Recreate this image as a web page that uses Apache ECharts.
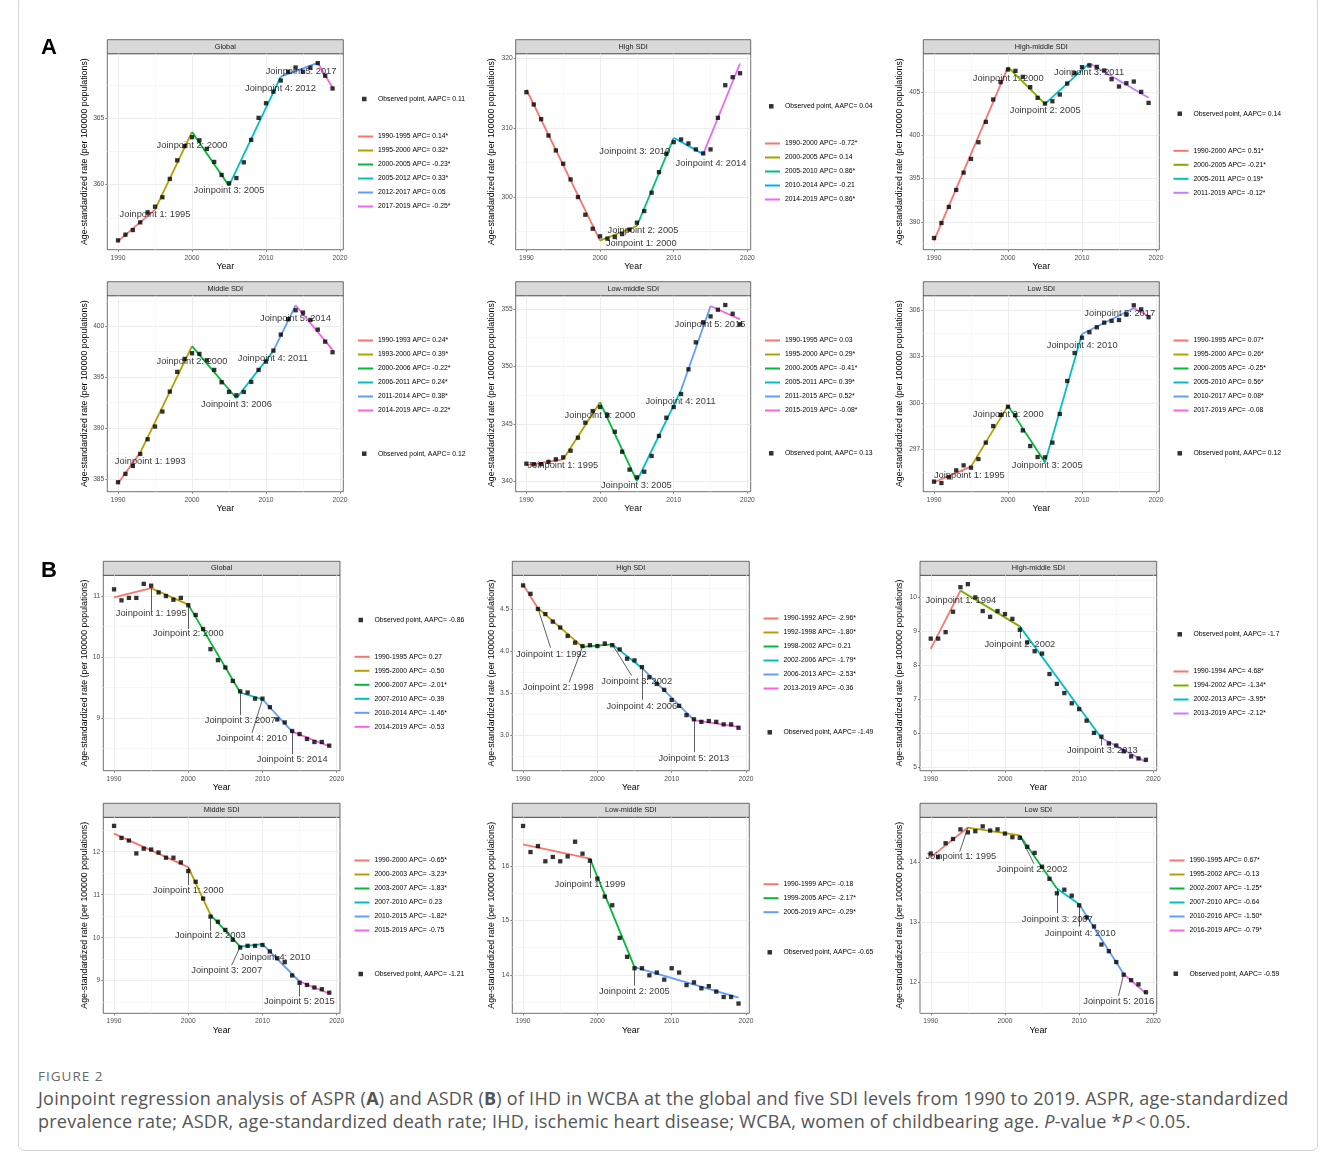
<!DOCTYPE html>
<html>
<head>
<meta charset="utf-8">
<title>Joinpoint regression of ASPR and ASDR</title>
<script src="https://cdn.jsdelivr.net/npm/echarts@6/dist/echarts.min.js"></script>
<style>
  html, body { margin: 0; padding: 0; background: #fff; }
  body { width: 1328px; height: 1157px; position: relative; overflow: hidden; }
  #frame { position: absolute; left: 18px; top: -4px; width: 1300px; height: 1155px; border: 1px solid #d4d4d4; border-radius: 6px; box-sizing: border-box; }
  #chart { position: absolute; left: 0; top: 0; width: 1328px; height: 1060px; }
  #figno { position: absolute; left: 38px; top: 1067px; font: 13.5px "Open Sans", "Noto Sans", sans-serif; letter-spacing: 1px; color: #666; line-height: 18px; }
  #caption { position: absolute; left: 38px; top: 1087px; font: 18px "Open Sans", "Noto Sans", sans-serif; letter-spacing: 0.25px; color: #555; line-height: 23px; white-space: nowrap; }
</style>
</head>
<body>
<div id="frame"></div>
<div id="chart"></div>
<div id="figno">FIGURE 2</div>
<div id="caption">Joinpoint regression analysis of ASPR (<b>A</b>) and ASDR (<b>B</b>) of IHD in WCBA at the global and five SDI levels from 1990 to 2019. ASPR, age-standardized<br>prevalence rate; ASDR, age-standardized death rate; IHD, ischemic heart disease; WCBA, women of childbearing age. <i>P</i>-value *<i>P</i>&thinsp;&lt;&thinsp;0.05.</div>
<script>
const FONT = 'Liberation Sans, Arial, Helvetica, sans-serif'

const years = [1990, 1991, 1992, 1993, 1994, 1995, 1996, 1997, 1998, 1999, 2000, 2001, 2002, 2003, 2004,
  2005, 2006, 2007, 2008, 2009, 2010, 2011, 2012, 2013, 2014, 2015, 2016, 2017, 2018, 2019]
const xMajor = [1990, 2000, 2010, 2020]
const xMinor = [1995, 2005, 2015]

// ---- A: ASPR ----
const aGlobalObs = [355.8, 356.23, 356.58, 357.16, 357.91, 358.34, 359.05, 360.43, 361.83, 362.9, 363.57, 363.34, 362.69, 361.71, 360.73,
  360.1, 360.5, 361.68, 363.37, 365.03, 366.13, 367.0, 367.84, 368.5, 368.82, 368.5, 368.8, 369.15, 368.2, 367.24]
const aGlobalJoins = [1990, 1995, 2000, 2005, 2012, 2017, 2019]
const aGlobalFit = [355.75, 358.12, 363.97, 359.92, 368.14, 369.17, 367.29]
const aGlobalApc = ['1990-1995 APC= 0.14*', '1995-2000 APC= 0.32*', '2000-2005 APC= -0.23*', '2005-2012 APC= 0.33*', '2012-2017 APC= 0.05', '2017-2019 APC= -0.25*']
const aGlobalAapc = 'AAPC= 0.11'
const aGlobalLabelAt = [[1995.0, 357.74], [2000.0, 362.94], [2005.0, 359.55], [2011.95, 367.21], [2014.74, 368.54]]

const aHighObs = [315.14, 313.37, 311.25, 308.89, 306.73, 304.81, 302.55, 300.0, 297.45, 295.43, 294.33, 294.0, 294.23, 294.66, 295.3,
  296.3, 297.98, 300.63, 303.6, 306.25, 307.93, 308.32, 307.74, 306.88, 306.3, 306.88, 311.44, 316.15, 317.31, 317.88]
const aHighJoins = [1990, 2000, 2005, 2010, 2014, 2019]
const aHighFit = [315.53, 293.7, 295.82, 308.56, 306.2, 319.28]
const aHighApc = ['1990-2000 APC= -0.72*', '2000-2005 APC= 0.14', '2005-2010 APC= 0.86*', '2010-2014 APC= -0.21', '2014-2019 APC= 0.86*']
const aHighAapc = 'AAPC= 0.04'
const aHighLabelAt = [[2005.6, 293.3], [2005.83, 295.19], [2004.71, 306.63], [2015.06, 304.9]]

const aHighMidObs = [388.15, 389.88, 391.73, 393.69, 395.69, 397.27, 399.19, 401.54, 404.12, 406.12, 407.58, 407.42, 406.73, 405.54, 404.31,
  403.65, 403.92, 404.69, 405.96, 407.15, 407.85, 408.04, 407.88, 407.46, 406.46, 405.62, 406.0, 406.19, 405.0, 403.73]
const aHighMidJoins = [1990, 2000, 2005, 2011, 2019]
const aHighMidFit = [387.85, 407.85, 403.62, 408.31, 404.31]
const aHighMidApc = ['1990-2000 APC= 0.51*', '2000-2005 APC= -0.21*', '2005-2011 APC= 0.19*', '2011-2019 APC= -0.12*']
const aHighMidAapc = 'AAPC= 0.14'
const aHighMidLabelAt = [[2000.03, 406.58], [2005.02, 402.85], [2010.96, 407.23]]

const aMiddleObs = [384.68, 385.5, 386.28, 387.46, 388.9, 390.15, 391.62, 393.58, 395.52, 396.79, 397.35, 397.28, 396.66, 395.71, 394.5,
  393.55, 393.22, 393.55, 394.53, 395.71, 396.53, 397.61, 399.18, 400.69, 401.57, 401.34, 400.62, 399.67, 398.49, 397.45]
const aMiddleJoins = [1990, 1993, 2000, 2006, 2011, 2014, 2019]
const aMiddleFit = [384.58, 387.59, 398.04, 392.93, 397.58, 402.06, 397.68]
const aMiddleApc = ['1990-1993 APC= 0.24*', '1993-2000 APC= 0.39*', '2000-2006 APC= -0.22*', '2006-2011 APC= 0.24*', '2011-2014 APC= 0.38*', '2014-2019 APC= -0.22*']
const aMiddleAapc = 'AAPC= 0.12'
const aMiddleLabelAt = [[1994.36, 386.71], [1999.99, 396.56], [2006.01, 392.37], [2010.92, 396.79], [2013.98, 400.79]]

const aLowMidObs = [341.54, 341.5, 341.5, 341.7, 341.92, 342.09, 342.67, 343.8, 345.11, 346.12, 346.47, 345.77, 344.32, 342.58, 341.02,
  340.35, 340.84, 342.21, 343.95, 345.54, 346.47, 347.6, 349.75, 352.1, 353.84, 354.36, 354.94, 355.35, 354.59, 353.67]
const aLowMidJoins = [1990, 1995, 2000, 2005, 2011, 2015, 2019]
const aLowMidFit = [341.42, 341.92, 346.88, 340.03, 347.95, 355.26, 354.1]
const aLowMidApc = ['1990-1995 APC= 0.03', '1995-2000 APC= 0.29*', '2000-2005 APC= -0.41*', '2005-2011 APC= 0.39*', '2011-2015 APC= 0.52*', '2015-2019 APC= -0.08*']
const aLowMidAapc = 'AAPC= 0.13'
const aLowMidLabelAt = [[1994.95, 341.42], [1999.99, 345.77], [2004.93, 339.68], [2010.92, 346.93], [2014.92, 353.67]]

const aLowObs = [294.91, 294.82, 295.19, 295.64, 295.96, 295.81, 296.37, 297.43, 298.5, 299.22, 299.75, 299.2, 298.22, 297.21, 296.5,
  296.48, 297.43, 299.28, 301.41, 303.22, 304.21, 304.56, 304.88, 305.18, 305.29, 305.35, 305.7, 306.3, 306.04, 305.53]
const aLowJoins = [1990, 1995, 2000, 2005, 2010, 2017, 2019]
const aLowFit = [294.87, 295.88, 299.82, 296.14, 304.45, 306.11, 305.61]
const aLowApc = ['1990-1995 APC= 0.07*', '1995-2000 APC= 0.26*', '2000-2005 APC= -0.25*', '2005-2010 APC= 0.56*', '2010-2017 APC= 0.08*', '2017-2019 APC= -0.08']
const aLowAapc = 'AAPC= 0.12'
const aLowLabelAt = [[1994.77, 295.3], [2000.03, 299.24], [2005.29, 295.98], [2010.02, 303.7], [2015.1, 305.78]]

// ---- B: ASDR ----
const bGlobalObs = [11.11, 10.93, 10.97, 10.97, 11.2, 11.17, 11.06, 11.0, 10.94, 10.97, 10.85, 10.69, 10.46, 10.13, 9.95,
  9.83, 9.61, 9.44, 9.42, 9.32, 9.32, 9.18, 8.98, 8.93, 8.79, 8.74, 8.66, 8.61, 8.61, 8.55]
const bGlobalJoins = [1990, 1995, 2000, 2007, 2010, 2014, 2019]
const bGlobalFit = [10.98, 11.13, 10.86, 9.42, 9.31, 8.78, 8.54]
const bGlobalApc = ['1990-1995 APC= 0.27', '1995-2000 APC= -0.50', '2000-2007 APC= -2.01*', '2007-2010 APC= -0.39', '2010-2014 APC= -1.46*', '2014-2019 APC= -0.53']
const bGlobalAapc = 'AAPC= -0.86'
const bGlobalLabelAt = [[1995.0, 10.71], [2000.0, 10.39], [2007.0, 8.97], [2008.55, 8.67], [2014.0, 8.33]]
const bGlobalLinkEnd = [[1995, 10.77], [2000, 10.46], [2007, 9.05], [2008.6, 8.76], [2014, 8.41]]

const bHighObs = [4.78, 4.68, 4.5, 4.44, 4.35, 4.28, 4.18, 4.1, 4.06, 4.07, 4.06, 4.09, 4.07, 4.02, 3.91,
  3.89, 3.81, 3.69, 3.61, 3.54, 3.42, 3.35, 3.24, 3.19, 3.16, 3.17, 3.16, 3.13, 3.13, 3.09]
const bHighJoins = [1990, 1992, 1998, 2002, 2006, 2013, 2019]
const bHighFit = [4.79, 4.51, 4.05, 4.08, 3.8, 3.18, 3.1]
const bHighApc = ['1990-1992 APC= -2.96*', '1992-1998 APC= -1.80*', '1998-2002 APC= 0.21', '2002-2006 APC= -1.79*', '2006-2013 APC= -2.53*', '2013-2019 APC= -0.36']
const bHighAapc = 'AAPC= -1.49'
const bHighLabelAt = [[1993.8, 3.96], [1994.72, 3.57], [2005.3, 3.64], [2005.98, 3.34], [2012.99, 2.72]]
const bHighLinkEnd = [[1993.7, 4.04], [1996.2, 3.63], [2004.6, 3.71], [2006, 3.42], [2013, 2.8]]

const bHighMidObs = [8.78, 8.78, 8.97, 9.57, 10.29, 10.38, 9.99, 9.59, 9.42, 9.59, 9.5, 9.36, 9.04, 8.67, 8.41,
  8.34, 7.74, 7.45, 7.18, 6.88, 6.71, 6.37, 6.01, 5.9, 5.7, 5.64, 5.47, 5.32, 5.26, 5.22]
const bHighMidJoins = [1990, 1994, 2002, 2013, 2019]
const bHighMidFit = [8.48, 10.19, 9.14, 5.86, 5.16]
const bHighMidApc = ['1990-1994 APC= 4.68*', '1994-2002 APC= -1.34*', '2002-2013 APC= -3.95*', '2013-2019 APC= -2.12*']
const bHighMidAapc = 'AAPC= -1.7'
const bHighMidLabelAt = [[1994.05, 9.89], [2002.01, 8.62], [2013.12, 5.49]]
const bHighMidLinkEnd = [null, [2002, 8.78], [2013, 5.64]]

const bMiddleObs = [12.6, 12.32, 12.26, 11.96, 12.07, 12.05, 11.98, 11.86, 11.86, 11.75, 11.55, 11.3, 10.91, 10.49, 10.37,
  10.18, 9.95, 9.77, 9.81, 9.81, 9.83, 9.68, 9.52, 9.43, 9.12, 8.95, 8.9, 8.84, 8.8, 8.72]
const bMiddleJoins = [1990, 2000, 2003, 2007, 2010, 2015, 2019]
const bMiddleFit = [12.42, 11.64, 10.53, 9.79, 9.85, 8.98, 8.7]
const bMiddleApc = ['1990-2000 APC= -0.65*', '2000-2003 APC= -3.23*', '2003-2007 APC= -1.83*', '2007-2010 APC= 0.23', '2010-2015 APC= -1.82*', '2015-2019 APC= -0.75']
const bMiddleAapc = 'AAPC= -1.21'
const bMiddleLabelAt = [[2000.0, 11.11], [2002.98, 10.05], [2005.18, 9.23], [2011.69, 9.53], [2014.97, 8.52]]
const bMiddleLinkEnd = [[2000, 11.22], [2003, 10.16], [2005.85, 9.36], null, [2015, 8.63]]

const bLowMidObs = [16.74, 16.26, 16.37, 16.09, 16.17, 16.09, 16.18, 16.45, 16.23, 16.1, 15.77, 15.44, 15.28, 14.68, 14.33,
  14.12, 14.12, 13.99, 14.04, 13.91, 14.12, 14.04, 13.81, 13.86, 13.75, 13.79, 13.69, 13.59, 13.59, 13.47]
const bLowMidJoins = [1990, 1999, 2005, 2019]
const bLowMidFit = [16.4, 16.14, 14.14, 13.58]
const bLowMidApc = ['1990-1999 APC= -0.18', '1999-2005 APC= -2.17*', '2005-2019 APC= -0.29*']
const bLowMidAapc = 'AAPC= -0.65'
const bLowMidLabelAt = [[1999.0, 15.66], [2004.98, 13.69]]
const bLowMidLinkEnd = [[1999, 15.78], [2005, 13.8]]

const bLowObs = [14.14, 14.08, 14.31, 14.38, 14.54, 14.49, 14.51, 14.59, 14.52, 14.54, 14.47, 14.41, 14.4, 14.25, 14.15,
  13.92, 13.72, 13.48, 13.54, 13.44, 13.28, 13.08, 12.93, 12.63, 12.52, 12.34, 12.13, 12.04, 11.97, 11.84]
const bLowJoins = [1990, 1995, 2002, 2007, 2010, 2016, 2019]
const bLowFit = [14.08, 14.57, 14.44, 13.56, 13.3, 12.14, 11.82]
const bLowApc = ['1990-1995 APC= 0.67*', '1995-2002 APC= -0.13', '2002-2007 APC= -1.25*', '2007-2010 APC= -0.64', '2010-2016 APC= -1.50*', '2016-2019 APC= -0.79*']
const bLowAapc = 'AAPC= -0.59'
const bLowLabelAt = [[1994.05, 14.09], [2003.63, 13.88], [2007.05, 13.04], [2010.15, 12.82], [2015.33, 11.69]]
const bLowLinkEnd = [[1993.9, 14.17], [2003.9, 13.97], [2007, 13.15], [2010, 12.93], [2015.3, 11.78]]

// ggplot hue palettes by number of segments
const palettes = {
  3: ['#F8766D', '#00BA38', '#619CFF'],
  4: ['#F8766D', '#7CAE00', '#00BFC4', '#C77CFF'],
  5: ['#F8766D', '#A3A500', '#00BF7D', '#00B0F6', '#E76BF3'],
  6: ['#F8766D', '#B79F00', '#00BA38', '#00BFC4', '#619CFF', '#F564E3']
}

// layout of each facet: box = [left, top, width, height] of the plot panel
const panels = [
  { title: 'Global', obs: aGlobalObs, joins: aGlobalJoins, fit: aGlobalFit, apc: aGlobalApc, aapc: aGlobalAapc, labelAt: aGlobalLabelAt,
    box: [107.3, 53.7, 236, 196], y: [355.1, 369.86], major: [360, 365], minor: [357.5, 362.5, 367.5], digits: 0, nameGap: 18.5,
    legendX: 358, obsY: 99, linesY: 137 },
  { title: 'High SDI', obs: aHighObs, joins: aHighJoins, fit: aHighFit, apc: aHighApc, aapc: aHighAapc, labelAt: aHighLabelAt,
    box: [515.7, 53.7, 235, 196], y: [292.4, 320.7], major: [300, 310, 320], minor: [295, 305, 315], digits: 0, nameGap: 19.5,
    legendX: 765, obsY: 106.3, linesY: 144 },
  { title: 'High-middle SDI', obs: aHighMidObs, joins: aHighMidJoins, fit: aHighMidFit, apc: aHighMidApc, aapc: aHighMidAapc, labelAt: aHighMidLabelAt,
    box: [923.3, 53.7, 236, 196], y: [386.8, 409.4], major: [390, 395, 400, 405], minor: [387.5, 392.5, 397.5, 402.5, 407.5], digits: 0, nameGap: 18.8,
    legendX: 1173.5, obsY: 113.7, linesY: 151.3 },
  { title: 'Middle SDI', obs: aMiddleObs, joins: aMiddleJoins, fit: aMiddleFit, apc: aMiddleApc, aapc: aMiddleAapc, labelAt: aMiddleLabelAt,
    box: [107.3, 295.7, 236, 196], y: [383.75, 403.0], major: [385, 390, 395, 400], minor: [387.5, 392.5, 397.5, 402.5], digits: 0, nameGap: 18.5,
    legendX: 358, obsY: 453.7, linesY: 341 },
  { title: 'Low-middle SDI', obs: aLowMidObs, joins: aLowMidJoins, fit: aLowMidFit, apc: aLowMidApc, aapc: aLowMidAapc, labelAt: aLowMidLabelAt,
    box: [515.7, 295.7, 235, 196], y: [339.1, 356.16], major: [340, 345, 350, 355], minor: [342.5, 347.5, 352.5], digits: 0, nameGap: 19.5,
    legendX: 765, obsY: 453.3, linesY: 341 },
  { title: 'Low SDI', obs: aLowObs, joins: aLowJoins, fit: aLowFit, apc: aLowApc, aapc: aLowAapc, labelAt: aLowLabelAt,
    box: [923.3, 295.7, 236, 196], y: [294.26, 306.92], major: [297, 300, 303, 306], minor: [295.5, 298.5, 301.5, 304.5], digits: 0, nameGap: 18.8,
    legendX: 1173.5, obsY: 453.3, linesY: 341 },
  { title: 'Global', obs: bGlobalObs, joins: bGlobalJoins, fit: bGlobalFit, apc: bGlobalApc, aapc: bGlobalAapc, labelAt: bGlobalLabelAt, links: bGlobalLinkEnd,
    box: [103.3, 575.3, 236.7, 195.4], y: [8.14, 11.34], major: [9, 10, 11], minor: [8.5, 9.5, 10.5], digits: 0, nameGap: 14.5,
    legendX: 354.5, obsY: 620, linesY: 657.3 },
  { title: 'High SDI', obs: bHighObs, joins: bHighJoins, fit: bHighFit, apc: bHighApc, aapc: bHighAapc, labelAt: bHighLabelAt, links: bHighLinkEnd,
    box: [512.3, 575.3, 237, 195.4], y: [2.58, 4.9], major: [3.0, 3.5, 4.0, 4.5], minor: [2.75, 3.25, 3.75, 4.25, 4.75], digits: 1, nameGap: 16,
    legendX: 763.5, obsY: 732.3, linesY: 619 },
  { title: 'High-middle SDI', obs: bHighMidObs, joins: bHighMidJoins, fit: bHighMidFit, apc: bHighMidApc, aapc: bHighMidAapc, labelAt: bHighMidLabelAt, links: bHighMidLinkEnd,
    box: [920, 575.3, 236.7, 195.4], y: [4.9, 10.64], major: [5, 6, 7, 8, 9, 10], minor: [5.5, 6.5, 7.5, 8.5, 9.5, 10.5], digits: 0, nameGap: 15.5,
    legendX: 1173.5, obsY: 634.3, linesY: 672 },
  { title: 'Middle SDI', obs: bMiddleObs, joins: bMiddleJoins, fit: bMiddleFit, apc: bMiddleApc, aapc: bMiddleAapc, labelAt: bMiddleLabelAt, links: bMiddleLinkEnd,
    box: [103.3, 817.3, 236.7, 196], y: [8.24, 12.8], major: [9, 10, 11, 12], minor: [8.5, 9.5, 10.5, 11.5, 12.5], digits: 0, nameGap: 14.5,
    legendX: 354.5, obsY: 974, linesY: 861 },
  { title: 'Low-middle SDI', obs: bLowMidObs, joins: bLowMidJoins, fit: bLowMidFit, apc: bLowMidApc, aapc: bLowMidAapc, labelAt: bLowMidLabelAt, links: bLowMidLinkEnd,
    box: [512.3, 817.3, 237, 196], y: [13.29, 16.9], major: [14, 15, 16], minor: [13.5, 14.5, 15.5, 16.5], digits: 0, nameGap: 16,
    legendX: 763.5, obsY: 952.3, linesY: 884.7 },
  { title: 'Low SDI', obs: bLowObs, joins: bLowJoins, fit: bLowFit, apc: bLowApc, aapc: bLowAapc, labelAt: bLowLabelAt, links: bLowLinkEnd,
    box: [920, 817.3, 236.7, 196], y: [11.49, 14.74], major: [12, 13, 14], minor: [11.5, 12.5, 13.5, 14.5], digits: 0, nameGap: 15.5,
    legendX: 1169.5, obsY: 973.7, linesY: 861 }
]

const xMin = 1988.55
const xMax = 2020.45
const STRIP_H = 14
const LINE_ICON = 'path://M0,3 L15,3 L15,5 L0,5 Z'
const POINT_ICON = 'path://M0,0 L0,0 M15,8 L15,8 M4,1.75 L8.5,1.75 L8.5,6.25 L4,6.25 Z'

const option = {
  animation: false,
  grid: [], xAxis: [], yAxis: [], series: [], legend: [],
  graphic: [
    { type: 'text', x: 41, y: 48, style: { text: 'A', font: 'bold 22px ' + FONT, fill: '#000', textVerticalAlign: 'middle', verticalAlign: 'middle' } },
    { type: 'text', x: 41, y: 571, style: { text: 'B', font: 'bold 22px ' + FONT, fill: '#000', textVerticalAlign: 'middle', verticalAlign: 'middle' } }
  ]
}

const labelStyle = { fontSize: 6.7, color: '#4d4d4d', fontFamily: FONT }
const nameStyle = { fontSize: 8.8, color: '#000', fontFamily: FONT }

panels.forEach((p, i) => {
  const [left, top, width, height] = p.box
  const ax = i * 2
  option.grid.push({ left, top, width, height, show: true, borderColor: '#333', borderWidth: 0.7,
    backgroundColor: '#fff', containLabel: false, outerBoundsMode: 'none' })

  option.xAxis.push({
    type: 'value', gridIndex: i, position: 'bottom', min: xMin, max: xMax,
    name: 'Year', nameLocation: 'middle', nameGap: 12.8, nameMoveOverlap: false, nameTextStyle: nameStyle,
    axisLine: { show: false },
    axisTick: { show: true, length: 2, lineStyle: { color: '#333', width: 0.6 }, customValues: xMajor },
    axisLabel: Object.assign({ customValues: xMajor, margin: 4.5, formatter: v => String(v) }, labelStyle),
    splitLine: { show: true, lineStyle: { color: '#ebebeb', width: 0.9 } }
  }, {
    type: 'value', gridIndex: i, position: 'top', min: xMin, max: xMax,
    axisLine: { show: false }, axisTick: { show: false, customValues: xMinor }, axisLabel: { show: false },
    splitLine: { show: true, lineStyle: { color: '#f2f2f2', width: 0.6 } }
  })

  option.yAxis.push({
    type: 'value', gridIndex: i, position: 'left', min: p.y[0], max: p.y[1],
    name: 'Age-standardized rate (per 100000 populations)', nameLocation: 'middle', nameGap: p.nameGap,
    nameMoveOverlap: false, nameTextStyle: nameStyle,
    axisLine: { show: false },
    axisTick: { show: true, length: 2, lineStyle: { color: '#333', width: 0.6 }, customValues: p.major },
    axisLabel: Object.assign({ customValues: p.major, margin: 3, formatter: v => v.toFixed(p.digits) }, labelStyle),
    splitLine: { show: true, lineStyle: { color: '#ebebeb', width: 0.9 } }
  }, {
    type: 'value', gridIndex: i, position: 'right', min: p.y[0], max: p.y[1],
    axisLine: { show: false }, axisTick: { show: false, customValues: p.minor }, axisLabel: { show: false },
    splitLine: { show: true, lineStyle: { color: '#f2f2f2', width: 0.6 } }
  })

  // fitted joinpoint segments
  const pal = palettes[p.apc.length]
  p.apc.forEach((name, k) => {
    option.series.push({
      type: 'line', name, xAxisIndex: ax, yAxisIndex: ax, symbol: 'none', silent: true, z: 3,
      color: pal[k], lineStyle: { width: 1.8, color: pal[k] },
      data: [[p.joins[k], p.fit[k]], [p.joins[k + 1], p.fit[k + 1]]]
    })
  })

  // observed points
  const obsName = 'Observed point, ' + p.aapc
  option.series.push({
    type: 'scatter', name: obsName, xAxisIndex: ax, yAxisIndex: ax, symbol: 'rect', symbolSize: 4.3,
    silent: true, z: 4, itemStyle: { color: '#000' },
    data: years.map((yr, k) => [yr, p.obs[k]])
  })

  // joinpoint labels (+ connectors)
  const links = (p.links || []).map((end, k) => end && [
    { coord: [p.joins[k + 1], p.fit[k + 1]] }, { coord: end }
  ]).filter(Boolean)
  option.series.push({
    type: 'scatter', xAxisIndex: ax, yAxisIndex: ax, symbolSize: 1, silent: true, z: 6,
    itemStyle: { color: 'rgba(0,0,0,0)' },
    label: { show: true, position: 'inside', formatter: q => q.data[2], fontSize: 9.3, color: '#000', fontFamily: FONT },
    data: p.labelAt.map((pos, k) => [pos[0], pos[1], 'Joinpoint ' + (k + 1) + ': ' + p.joins[k + 1]]),
    markLine: links.length ? {
      silent: true, symbol: ['none', 'none'], label: { show: false },
      lineStyle: { color: '#1a1a1a', width: 0.7, type: 'solid' },
      data: links
    } : undefined
  })

  // legends
  const legendBase = {
    orient: 'vertical', left: p.legendX, padding: 0, itemWidth: 15, itemHeight: 8, itemGap: 7,
    selectedMode: false, itemStyle: { borderWidth: 0 },
    textStyle: { fontSize: 6.8, color: '#000', fontFamily: FONT }
  }
  option.legend.push(Object.assign({}, legendBase, { top: p.linesY - 4, icon: LINE_ICON, data: p.apc }))
  option.legend.push(Object.assign({}, legendBase, { top: p.obsY - 4, icon: POINT_ICON, data: [obsName] }))

  // facet strip
  option.graphic.push({
    type: 'rect', shape: { x: left, y: top - STRIP_H, width, height: STRIP_H },
    style: { fill: '#d9d9d9', stroke: '#333', lineWidth: 0.7 }
  }, {
    type: 'text', x: left + width / 2, y: top - STRIP_H / 2,
    style: { text: p.title, font: '7.3px ' + FONT, fill: '#1a1a1a', align: 'center', verticalAlign: 'middle',
      textAlign: 'center', textVerticalAlign: 'middle' }
  })
})

const chart = echarts.init(document.getElementById('chart'), null, { renderer: 'canvas' })
chart.setOption(option)
</script>
</body>
</html>
